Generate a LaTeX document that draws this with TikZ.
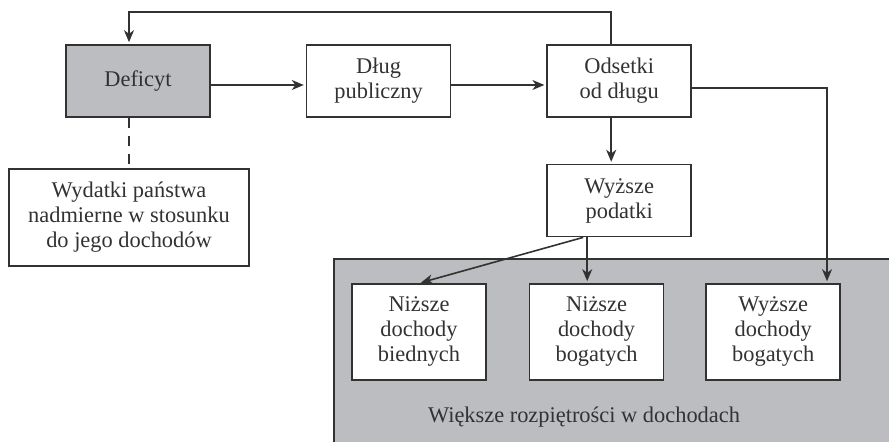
\documentclass[tikz,border=0pt]{standalone}
\usepackage{fontspec}
\setmainfont{Liberation Serif}
\usepackage{xcolor}
\usepackage{tikz}
\usetikzlibrary{arrows.meta, positioning}
\definecolor{boxgray}{RGB}{188,189,192}
\definecolor{linegray}{RGB}{50,50,50}

\begin{document}
\begin{tikzpicture}[
  x=0.5pt, y=-0.5pt,
  node distance=23pt and 47.5pt,
  flowbox/.style={draw=linegray, line width=0.8pt, fill=white, minimum width=72pt, minimum height=36pt,
               align=center, inner sep=2pt, text=linegray, font=\fontsize{11.2}{12.5}\selectfont},
  incbox/.style={flowbox, minimum width=67pt, minimum height=48pt},
  arr/.style={-{Stealth[length=6pt, width=5pt, inset=1.8pt]}, line width=0.8pt, draw=linegray, shorten >=1pt}
]
\useasboundingbox (0,0) rectangle (889,442);
% income spread area, cut off at the page edge
\fill[boxgray] (334,259) rectangle (889,442);
\draw[linegray, line width=0.8pt] (334,442) |- (889,259);

\node[flowbox, fill=boxgray] (deficyt) at (138,81) {Deficyt};
\node[flowbox, right=of deficyt] (dlug) {Dług\\publiczny};
\node[flowbox, right=of dlug] (odsetki) {Odsetki\\od długu};
\node[flowbox, below=of odsetki] (podatki) {Wyższe\\podatki};
\node[flowbox, minimum width=120pt, minimum height=48.5pt] (wydatki) at (129,217.5)
  {Wydatki państwa\\nadmierne w stosunku\\do jego dochodów};

\node[incbox] (biedni) at (419,332) {Niższe\\dochody\\biednych};
\node[incbox, right=21pt of biedni] (bogaci) {Niższe\\dochody\\bogatych};
\node[incbox, right=20.5pt of bogaci] (bogaciwy) {Wyższe\\dochody\\bogatych};
\node[text=linegray, font=\fontsize{11.2}{12.5}\selectfont] (rozpietosc) at (584,417)
  {Większe rozpiętrości w dochodach};

\draw[arr] ([yshift=-2pt]deficyt.east) -- ([yshift=-2pt]dlug.west);
\draw[arr] ([yshift=-2pt]dlug.east) -- ([yshift=-2pt]odsetki.west);
\draw[arr] ([xshift=-4pt]odsetki.north) -- ++(0,-32) -| (wydatki.north |- deficyt.north);
\draw[arr] ([xshift=-4pt]odsetki.south) -- ([xshift=-4pt]odsetki.south |- podatki.north);
\draw[arr] ([yshift=-3.5pt]odsetki.east) -| ([xshift=-7pt]bogaciwy.north east);
\draw[arr] ([xshift=-18pt]podatki.south) -- (biedni.north);
\draw[arr] ([xshift=-16pt]podatki.south) -- ([xshift=-16pt]podatki.south |- bogaci.north);
\draw[linegray, line width=0.8pt, dash pattern=on 5pt off 4pt] (deficyt.south -| wydatki.north) -- (wydatki.north);
\end{tikzpicture}
\end{document}
